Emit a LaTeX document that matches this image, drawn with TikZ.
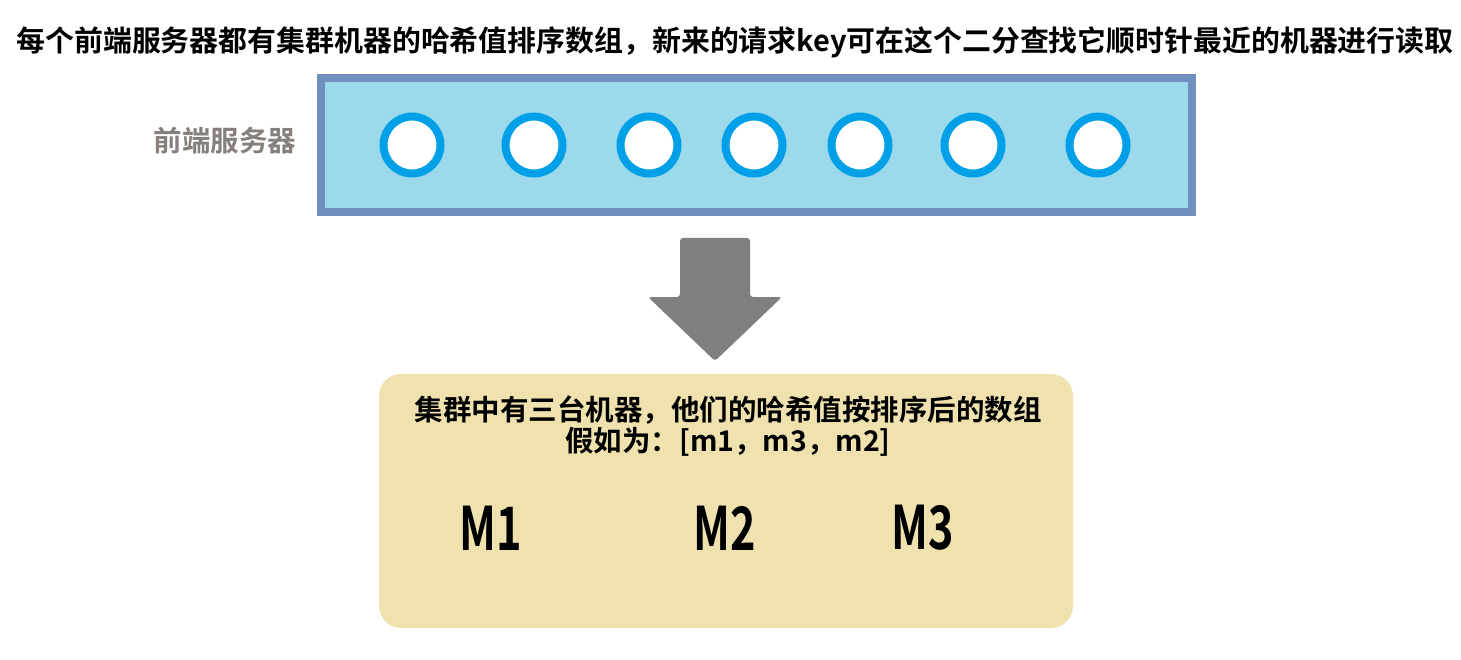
\documentclass[tikz,border=0pt]{standalone}
\usepackage{fontspec}
\setmainfont{Noto Sans CJK SC}[BoldFont={Noto Sans CJK SC Bold}]
\usetikzlibrary{calc}
\definecolor{frontfill}{HTML}{9CD9EA}
\definecolor{frontedge}{HTML}{6F90BE}
\definecolor{ringblue}{HTML}{00A0E9}
\definecolor{arrowgray}{HTML}{7F7F7F}
\definecolor{labelgray}{HTML}{867F7B}
\definecolor{clusterfill}{HTML}{EFE2AF}
\tikzset{
    ring/.style={circle, draw=ringblue, fill=white, line width=8pt, minimum size=57pt, inner sep=0pt},
    cjktext/.style={font=\bfseries\fontsize{28.5}{31}\selectfont, inner sep=0pt, align=center},
    machine/.style={font=\bfseries\fontsize{60}{60}\selectfont, inner sep=0pt}
}
\begin{document}
\begin{tikzpicture}[x=1pt,y=-1pt]
\useasboundingbox (0,0) rectangle (1461,660);

\node[cjktext, font=\bfseries\fontsize{28.9}{34}\selectfont] (title) at (735,42) {每个前端服务器都有集群机器的哈希值排序数组，新来的请求key可在这个二分查找它顺时针最近的机器进行读取};

% front servers
\node[cjktext, text=labelgray] (frontlabel) at (225,141) {前端服务器};
\draw[frontedge, line width=8pt, fill=frontfill] (321,78) rectangle (1192,212);
\foreach \x [count=\i] in {412,534,649,754,860,973,1098}
    \node[ring] (c\i) at (\x,145) {};

% arrow down
\fill[arrowgray, rounded corners=3pt] (680,238) -- (750,238) -- (750,297) -- (782,297) -- (715,361) -- (648,297) -- (680,297) -- cycle;

% cluster
\fill[clusterfill, rounded corners=22pt] (379,374) rectangle (1073,628);
\node[cjktext] (sorted) at (728,426) {集群中有三台机器，他们的哈希值按排序后的数组\\假如为：[m1，m3，m2]};
\node[machine] (m1) at (491,528) {\scalebox{0.72}[1]{M1}};
\node[machine] (m2) at (725,528) {\scalebox{0.72}[1]{M2}};
\node[machine] (m3) at (923,528) {\scalebox{0.72}[1]{M3}};
\end{tikzpicture}
\end{document}
